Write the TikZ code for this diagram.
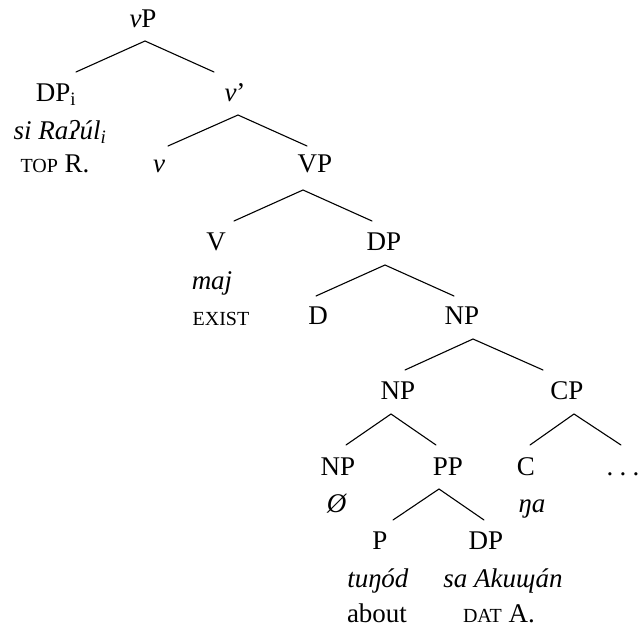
\documentclass[tikz,border=0pt]{standalone}
\usepackage{fontspec}
\setmainfont{Liberation Serif}
\newcommand\smc[1]{{\fontsize{20}{20}\selectfont #1}}
\newcommand\ellip{.\kern6.25pt.\kern6.25pt.}
\begin{document}
\begin{tikzpicture}[x=1pt,y=-1pt,
  lbl/.style={anchor=base,inner sep=0pt,font=\fontsize{27}{27}\selectfont},
  branch/.style={line width=1.1pt,line cap=round}]
\useasboundingbox (0,0) rectangle (641,631);
% labels of the tree
\node[lbl] (vP)   at (143,28)  {\textit{v}P};
\node[lbl] (DPi)  at (56,102)  {DP\textsubscript{i}};
\node[lbl] (DPiw) at (60,140)  {\textit{si Raʔúl\textsubscript{i}}};
\node[lbl] (DPig) at (55,173)  {\smc{TOP} R.};
\node[lbl] (vbar) at (235,102) {\textit{v}’};
\node[lbl] (v)    at (159,173) {\textit{v}};
\node[lbl] (VP)   at (315,173) {VP};
\node[lbl] (V)    at (216,251) {V};
\node[lbl] (Vw)   at (212,290) {\textit{maj}};
\node[lbl] (Vg)   at (221,326) {\smc{EXIST}};
\node[lbl] (DP)   at (384,251) {DP};
\node[lbl] (D)    at (318,325) {D};
\node[lbl] (NP)   at (462,325) {NP};
\node[lbl] (NPa)  at (398,400) {NP};
\node[lbl] (CP)   at (567,400) {CP};
\node[lbl] (NPb)  at (338,476) {NP};
\node[lbl] (NPbw) at (337,513) {\textit{Ø}};
\node[lbl] (PP)   at (448,476) {PP};
\node[lbl] (C)    at (526,476) {C};
\node[lbl] (Cw)   at (532,513) {\textit{ŋa}};
\node[lbl] (rest) at (623,476) {\ellip};
\node[lbl] (P)    at (380,550) {P};
\node[lbl] (Pw)   at (378,587) {\textit{tuŋód}};
\node[lbl] (Pg)   at (377,623) {about};
\node[lbl] (DPc)  at (486,550) {DP};
\node[lbl] (DPcw) at (503,587) {\textit{sa Akuɰán}};
\node[lbl] (DPcg) at (499,623) {\smc{DAT} A.};
% branch ends
\coordinate (vP-b)   at (145,41);
\coordinate (DPi-t)  at (76,72);
\coordinate (vbar-t) at (214,72);
\coordinate (vbar-b) at (238,115);
\coordinate (v-t)    at (168,146);
\coordinate (VP-t)   at (307,146);
\coordinate (VP-b)   at (303,190);
\coordinate (V-t)    at (234,221);
\coordinate (DP-t)   at (372,221);
\coordinate (DP-b)   at (385,265);
\coordinate (D-t)    at (316,296);
\coordinate (NP-t)   at (454,296);
\coordinate (NP-b)   at (473,339);
\coordinate (NPa-t)  at (405,370);
\coordinate (CP-t)   at (543,370);
\coordinate (NPa-b)  at (391,414);
\coordinate (NPb-t)  at (346,445);
\coordinate (PP-t)   at (436,445);
\coordinate (CP-b)   at (574,414);
\coordinate (C-t)    at (530,445);
\coordinate (rest-t) at (621,445);
\coordinate (PP-b)   at (439,489);
\coordinate (P-t)    at (393,520);
\coordinate (DPc-t)  at (484,520);
% branches
\draw[branch] (DPi-t) -- (vP-b) -- (vbar-t);
\draw[branch] (v-t) -- (vbar-b) -- (VP-t);
\draw[branch] (V-t) -- (VP-b) -- (DP-t);
\draw[branch] (D-t) -- (DP-b) -- (NP-t);
\draw[branch] (NPa-t) -- (NP-b) -- (CP-t);
\draw[branch] (NPb-t) -- (NPa-b) -- (PP-t);
\draw[branch] (C-t) -- (CP-b) -- (rest-t);
\draw[branch] (P-t) -- (PP-b) -- (DPc-t);
\end{tikzpicture}
\end{document}
